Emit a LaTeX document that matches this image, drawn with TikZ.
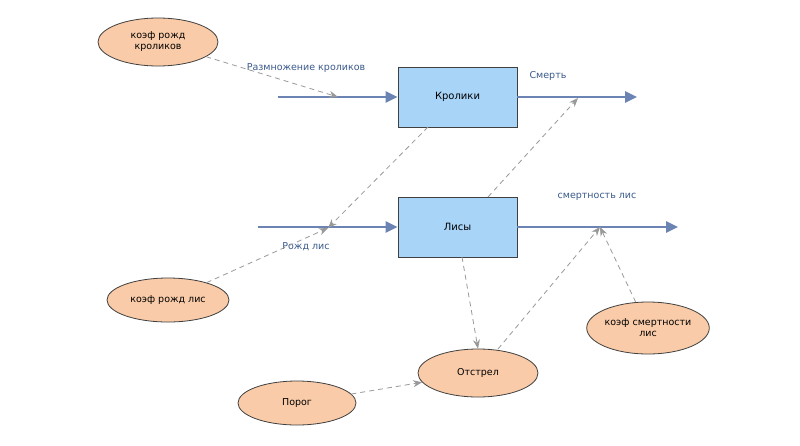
\documentclass[tikz,border=0pt]{standalone}
\usepackage{fontspec}
\setmainfont{DejaVu Sans}
\usetikzlibrary{shapes.geometric,arrows.meta}
\definecolor{flowc}{HTML}{6C84B4}
\definecolor{boxc}{HTML}{A8D4F8}
\definecolor{ellc}{HTML}{F9CBA8}
\definecolor{txtc}{HTML}{3A5A8C}
\tikzset{
 stock/.style={draw=black!75,thick,fill=boxc,minimum width=119pt,minimum height=60pt,inner sep=0,font=\fontsize{10}{12}\selectfont},
 aux/.style={ellipse,draw=black!75,thick,fill=ellc,inner sep=0,align=center,font=\fontsize{9.5}{11}\selectfont},
 flow/.style={draw=flowc,line width=2.5pt,-{Triangle[length=12pt,width=11pt]}},
 link/.style={draw=black!40,thick,dashed,dash pattern=on 5pt off 4pt,-{Stealth[length=9pt,width=7pt]}},
 lbl/.style={text=txtc,font=\fontsize{9.5}{11}\selectfont}
}
\begin{document}
\begin{tikzpicture}[x=1pt,y=-1pt]
\useasboundingbox[fill=white] (0,0) rectangle (800,445);
\node[stock] (rab) at (457.5,97) {Кролики};
\node[stock] (fox) at (457.5,227) {Лисы};
\node[aux,minimum width=120pt,minimum height=48pt] (krk) at (158,42) {коэф рожд\\кроликов};
\node[aux,minimum width=122pt,minimum height=44pt] (krl) at (168,300) {коэф рожд лис};
\node[aux,minimum width=118pt,minimum height=44pt] (por) at (297,403) {Порог};
\node[aux,minimum width=120pt,minimum height=48pt] (ots) at (478,373) {Отстрел};
\node[aux,minimum width=120pt,minimum height=52pt] (ksl) at (648,328) {коэф смертности\\лис};
\coordinate (rin) at (278,97);
\coordinate (rout) at (637,97);
\coordinate (fin) at (258,227);
\coordinate (fout) at (678,227);
\coordinate (m1) at (338,97);
\coordinate (m2) at (578,98);
\coordinate (m3) at (328,228);
\coordinate (m4) at (600,227);
\draw[flow] (rin) -- (rab.west);
\draw[flow] (rab.east) -- (rout);
\draw[flow] (fin) -- (fox.west);
\draw[flow] (fox.east) -- (fout);
\node[lbl] (l1) at (306,68) {Размножение кроликов};
\node[lbl] (l2) at (548,76) {Смерть};
\node[lbl] (l3) at (597,197) {смертность лис};
\node[lbl] (l4) at (306,247) {Рожд лис};
\draw[link] (krk) -- (m1);
\draw[link] (428,127) -- (m3);
\draw[link] (krl) -- (m3);
\draw[link] (488,197) -- (m2);
\draw[link] (462,257) -- (ots.north);
\draw[link] (498,349) -- (m4);
\draw[link] (ksl) -- (m4);
\draw[link] (por) -- (ots);
\end{tikzpicture}
\end{document}
